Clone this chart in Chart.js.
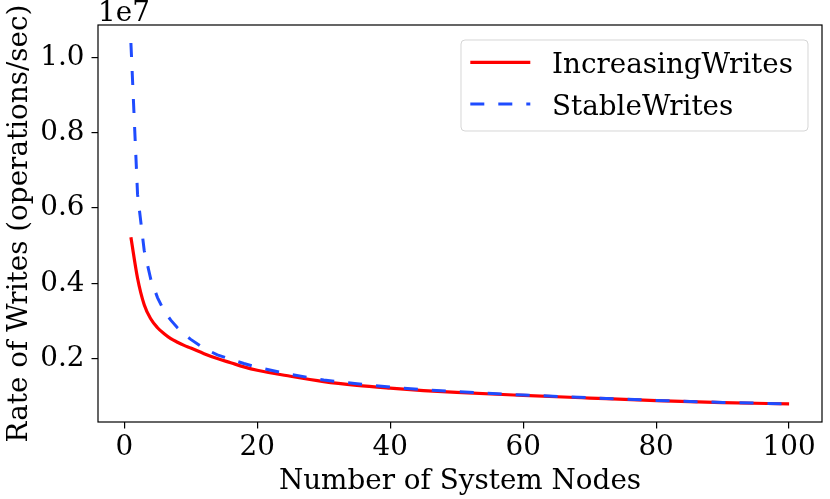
<!DOCTYPE html>
<html>
<head>
  <script src="https://cdn.jsdelivr.net/npm/chart.js@4.4.0/dist/chart.umd.min.js"></script>
  <style>
    body { margin: 0; background: #ffffff; }
    #wrap { width: 830px; height: 499px; }
  </style>
</head>
<body>

<div id="wrap"><canvas id="writesChart"></canvas></div>

<script>
// values (operations/sec)
var nodes = [1, 2, 3, 4, 5, 6, 7, 8, 9, 10, 12, 14, 16, 18, 20, 25, 30, 35, 40, 45, 50, 60, 70, 80, 90, 100];
var increasingWrites = [5.22e6, 4.135e6, 3.43e6, 3.05e6, 2.82e6, 2.66e6, 2.53e6, 2.435e6, 2.35e6, 2.28e6,
                        2.13e6, 2.00e6, 1.89e6, 1.78e6, 1.69e6, 1.53e6, 1.39e6, 1.29e6, 1.215e6, 1.15e6,
                        1.10e6, 1.022e6, 0.952e6, 0.885e6, 0.832e6, 0.795e6];
var stableWrites = [10.38e6, 6.36e6, 4.87e6, 4.10e6, 3.62e6, 3.26e6, 3.02e6, 2.82e6, 2.65e6, 2.51e6,
                    2.27e6, 2.10e6, 1.98e6, 1.87e6, 1.77e6, 1.58e6, 1.43e6, 1.33e6, 1.243e6, 1.175e6,
                    1.123e6, 1.032e6, 0.960e6, 0.890e6, 0.835e6, 0.797e6];
var seriesNames = ["IncreasingWrites", "StableWrites"];
var xTicks = [0, 20, 40, 60, 80, 100];
var yTicks = [2e6, 4e6, 6e6, 8e6, 1e7];

var FONT = '"DejaVu Serif", serif';
var SIZE = 27.8;

// matplotlib-like 5% margins around the data
var allY = increasingWrites.concat(stableWrites);
var yLo = Math.min.apply(null, allY), yHi = Math.max.apply(null, allY);
var xLo = Math.min.apply(null, nodes), xHi = Math.max.apply(null, nodes);
var yPad = (yHi - yLo) * 0.05, xPad = (xHi - xLo) * 0.05;

function toPoints(ys) {
  return nodes.map(function(n, i) { return { x: n, y: ys[i] }; });
}

// box around the axes, the offset text and the framed legend
var frameAndLegend = {
  id: "frameAndLegend",
  afterDatasetsDraw: function(chart) {
    var ctx = chart.ctx, a = chart.chartArea;
    ctx.save();
    ctx.strokeStyle = "#000";
    ctx.lineWidth = 1.2;
    ctx.strokeRect(a.left, a.top, a.right - a.left, a.bottom - a.top);

    ctx.fillStyle = "#000";
    ctx.font = SIZE + "px " + FONT;
    ctx.textAlign = "left";
    ctx.textBaseline = "alphabetic";
    ctx.fillText("1e7", a.left, a.top - 4.3);

    var bx = a.right - 361, by = a.top + 15, bw = 347, bh = 91;
    ctx.beginPath();
    ctx.roundRect(bx, by, bw, bh, 4);
    ctx.fillStyle = "rgba(255,255,255,0.8)";
    ctx.fill();
    ctx.strokeStyle = "rgba(204,204,204,0.8)";
    ctx.lineWidth = 1;
    ctx.stroke();

    chart.data.datasets.forEach(function(ds, i) {
      var ly = by + 22.3 + i * 41.7;
      ctx.beginPath();
      ctx.setLineDash(ds.borderDash || []);
      ctx.lineCap = "butt";
      ctx.strokeStyle = ds.borderColor;
      ctx.lineWidth = ds.borderWidth;
      ctx.moveTo(bx + 9.3, ly);
      ctx.lineTo(bx + 69.3, ly);
      ctx.stroke();
      ctx.setLineDash([]);
      ctx.fillStyle = "#000";
      ctx.fillText(ds.label, bx + 91, ly + 10.5);
    });
    ctx.restore();
  }
};

var ctx = document.getElementById("writesChart").getContext("2d");
var writesChart = new Chart(ctx, {
  type: "line",
  data: {
    datasets: [{
      label: seriesNames[0],
      data: toPoints(increasingWrites),
      borderColor: "#ff0000",
      borderWidth: 3.2,
      cubicInterpolationMode: "monotone",
      pointRadius: 0,
      fill: false,
      order: 2
    }, {
      label: seriesNames[1],
      data: toPoints(stableWrites),
      borderColor: "#1f4cff",
      borderWidth: 3,
      borderDash: [14, 14],
      borderCapStyle: "butt",
      pointRadius: 0,
      fill: false,
      order: 1
    }]
  },
  options: {
    responsive: true,
    maintainAspectRatio: false,
    animation: false,
    layout: { padding: { top: 25, right: 8, left: 0, bottom: 0 } },
    plugins: {
      legend: { display: false },
      tooltip: { enabled: false }
    },
    scales: {
      x: {
        type: "linear",
        min: xLo - xPad,
        max: xHi + xPad,
        afterBuildTicks: function(s) { s.ticks = xTicks.map(function(v) { return { value: v }; }); },
        afterFit: function(s) { s.height = 77; },
        grid: { drawOnChartArea: false, drawTicks: true, tickLength: 6.5, color: "#000", lineWidth: 1.2 },
        border: { display: false },
        ticks: {
          color: "#000",
          padding: 2.5,
          maxRotation: 0,
          font: { family: FONT, size: SIZE, lineHeight: 1.2 }
        },
        title: {
          display: true,
          text: "Number of System Nodes",
          color: "#000",
          padding: { top: 0, bottom: 1 },
          font: { family: FONT, size: SIZE, lineHeight: 1.2 }
        }
      },
      y: {
        type: "linear",
        min: yLo - yPad,
        max: yHi + yPad,
        afterBuildTicks: function(s) { s.ticks = yTicks.map(function(v) { return { value: v }; }); },
        afterFit: function(s) { s.width = 98; },
        grid: { drawOnChartArea: false, drawTicks: true, tickLength: 6.5, color: "#000", lineWidth: 1.2 },
        border: { display: false },
        ticks: {
          color: "#000",
          padding: 7,
          font: { family: FONT, size: SIZE, lineHeight: 1.2 },
          callback: function(v) { return (v / 1e7).toFixed(1); }
        },
        title: {
          display: true,
          text: "Rate of Writes (operations/sec)",
          color: "#000",
          padding: { top: 3.4, bottom: 0 },
          font: { family: FONT, size: SIZE, lineHeight: 1.2 }
        }
      }
    }
  },
  plugins: [frameAndLegend]
});
</script>

</body>
</html>
